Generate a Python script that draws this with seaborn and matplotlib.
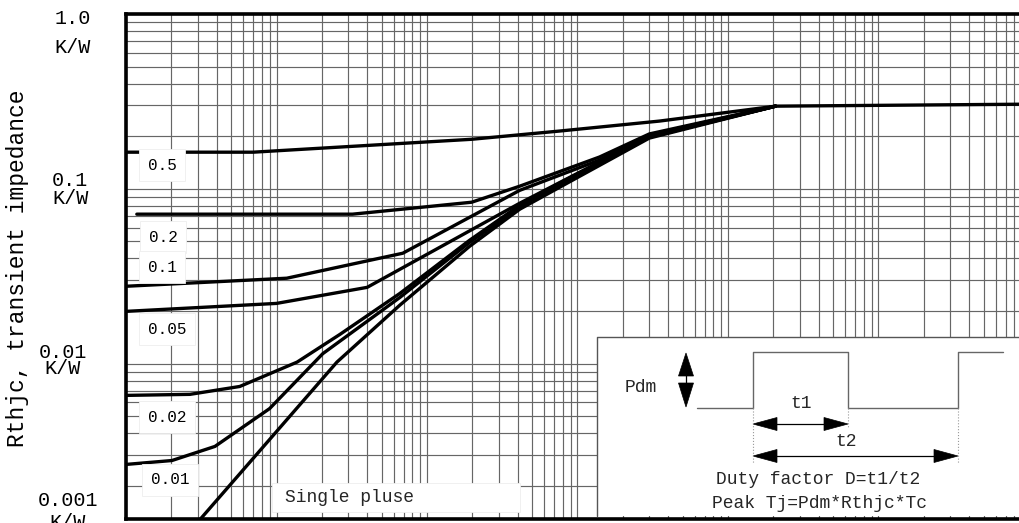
import numpy as np
import pandas as pd
import matplotlib
matplotlib.use("Agg")
import matplotlib.pyplot as plt
import seaborn as sns
from matplotlib.patches import Rectangle, Polygon

# ---- data (time in s, transient impedance in K/W) ----
duty_labels = ["0.5", "0.2", "0.1", "0.05", "0.02", "0.01", "Single pluse"]

t_05 = [1e-5, 7.0e-5, 1.98e-3, 7.6e-3, 3.5e-2, 0.207, 10]
z_05 = [0.162, 0.162, 0.192, 0.214, 0.244, 0.297, 0.305]

t_02 = [1.18e-5, 3.2e-4, 1.98e-3, 4.13e-3, 1.4e-2, 3.0e-2, 0.207]
z_02 = [0.0716, 0.0716, 0.0838, 0.1035, 0.152, 0.206, 0.297]

t_01 = [1e-5, 1.17e-4, 6.9e-4, 4.13e-3, 1.4e-2, 3.0e-2, 0.207]
z_01 = [0.0277, 0.0308, 0.0428, 0.098, 0.146, 0.203, 0.297]

t_005 = [1e-5, 1e-4, 4e-4, 4.13e-3, 3.0e-2, 0.207]
z_005 = [0.0199, 0.0221, 0.0273, 0.0827, 0.200, 0.297]

t_002 = [1e-5, 2.66e-5, 5.7e-5, 1.37e-4, 2.64e-4, 6.6e-4, 1.92e-3, 4.13e-3, 7.6e-3, 3.0e-2, 0.207]
z_002 = [0.00658, 0.00667, 0.0074, 0.0102, 0.0147, 0.0252, 0.0508, 0.0805, 0.1076, 0.198, 0.297]

t_001 = [1e-5, 2.02e-5, 3.9e-5, 9.0e-5, 2.03e-4, 6.6e-4, 1.92e-3, 4.13e-3, 7.6e-3, 3.0e-2, 0.207]
z_001 = [0.00265, 0.00279, 0.00336, 0.00553, 0.0114, 0.0239, 0.0494, 0.0785, 0.105, 0.198, 0.297]

t_sp = [2.9e-5, 2.52e-4, 6.6e-4, 1.92e-3, 4.13e-3, 7.6e-3, 3.0e-2, 0.207]
z_sp = [0.0012, 0.0102, 0.0216, 0.0469, 0.0764, 0.102, 0.195, 0.297]

series_t = [t_05, t_02, t_01, t_005, t_002, t_001, t_sp]
series_z = [z_05, z_02, z_01, z_005, z_002, z_001, z_sp]

frames = []
for lab, tt, zz in zip(duty_labels, series_t, series_z):
    frames.append(pd.DataFrame({"t": tt, "z": zz, "curve": lab, "order": range(len(tt))}))
df = pd.concat(frames, ignore_index=True)

ytick_text = [("1.0", 73, 18.5), ("K/W", 73, 47.5), ("0.1", 70, 180), ("K/W", 71, 198),
              ("0.01", 63, 352), ("K/W", 63, 369), ("0.001", 68, 500), ("K/W", 68, 523)]

# ---- style ----
sns.set_theme(style="white")
plt.rcParams["font.family"] = ["Liberation Mono", "DejaVu Sans"]

W, H = 1020, 523
fig = plt.figure(figsize=(10.2, 5.23), dpi=100)
ax = fig.add_axes([126 / W, 1 - 518.5 / H, 903 / W, 504.5 / H])

sns.lineplot(data=df, x="t", y="z", hue="curve", units="curve", estimator=None,
             sort=False, palette=["black"] * len(duty_labels), legend=False,
             linewidth=2.4, ax=ax, zorder=3)

ax.set_xscale("log")
ax.set_yscale("log")
ax.set_xlim(1e-5, 10)
ax.set_ylim(0.0013, 1.0)
ax.set_axisbelow(True)
ax.grid(which="both", color="#666666", linewidth=0.85)
ax.tick_params(which="both", length=0, labelbottom=False, labelleft=False)
ax.set_xlabel("")
ax.set_ylabel("")
for side in ["top", "left", "bottom"]:
    ax.spines[side].set_linewidth(2.6)
    ax.spines[side].set_color("black")
ax.spines["right"].set_visible(False)

# ---- overlay in pixel coordinates for annotations ----
ov = fig.add_axes([0, 0, 1, 1])
ov.set_xlim(0, W)
ov.set_ylim(H, 0)
ov.axis("off")
ov.patch.set_alpha(0)

for txt, xx, yy in ytick_text:
    ov.text(xx, yy, txt, ha="center", va="center", fontsize=14.5, color="black")

ov.text(18, 268, "Rthjc, transient impedance", rotation=90, ha="center",
        va="center", fontsize=16.5, color="black")

curve_lab_pos = [(162, 165), (163, 237), (162, 267), (167, 329), (167, 417), (170, 480)]
for lab, (xx, yy) in zip(duty_labels[:-1], curve_lab_pos):
    ov.text(xx, yy, lab, ha="center", va="center", fontsize=11.5, color="black",
            bbox=dict(boxstyle="square,pad=0.55", fc="white", ec="#eeeeee", lw=0.6))

ov.add_patch(Rectangle((272, 483), 248, 29, fc="white", ec="#eeeeee", lw=0.6))
ov.text(285, 497, duty_labels[-1], ha="left", va="center", fontsize=13)

# inset box
ov.add_patch(Rectangle((597, 337), 440, 179, fc="white", ec="none"))
ov.plot([597, 597, 1020], [516, 337, 337], color="#555555", lw=1.0)

# pulse waveform
ov.plot([697, 753, 753, 848, 848, 958, 958, 1003],
        [408, 408, 352, 352, 408, 408, 352, 352], color="#666666", lw=1.0)
for xx, y2 in [(753, 463), (848, 428), (958, 463)]:
    ov.plot([xx, xx], [408, y2], color="#999999", lw=0.8, ls=":")


def harrow(x0, x1, y):
    ov.plot([x0 + 20, x1 - 20], [y, y], color="black", lw=0.9)
    ov.add_patch(Polygon([[x0, y], [x0 + 24, y - 6.5], [x0 + 24, y + 6.5]],
                         closed=True, fc="black", ec="black", lw=0.5))
    ov.add_patch(Polygon([[x1, y], [x1 - 24, y - 6.5], [x1 - 24, y + 6.5]],
                         closed=True, fc="black", ec="black", lw=0.5))


harrow(753, 848, 424)
harrow(753, 958, 456)

# Pdm double arrow
ov.add_patch(Polygon([[686, 353], [678.5, 376], [693.5, 376]], closed=True,
                     fc="black", ec="black", lw=0.5))
ov.add_patch(Polygon([[686, 407], [678.5, 383], [693.5, 383]], closed=True,
                     fc="black", ec="black", lw=0.5))
ov.plot([686, 686], [375, 384], color="black", lw=0.9)

ov.text(625, 388, "Pdm", ha="left", va="center", fontsize=13)
ov.text(801.5, 404, "t1", ha="center", va="center", fontsize=13)
ov.text(846.5, 442, "t2", ha="center", va="center", fontsize=13)
ov.text(818, 479, "Duty factor D=t1/t2", ha="center", va="center", fontsize=13)
ov.text(820, 503, "Peak Tj=Pdm*Rthjc*Tc", ha="center", va="center", fontsize=13)

fig.savefig("out.png", dpi=100)
